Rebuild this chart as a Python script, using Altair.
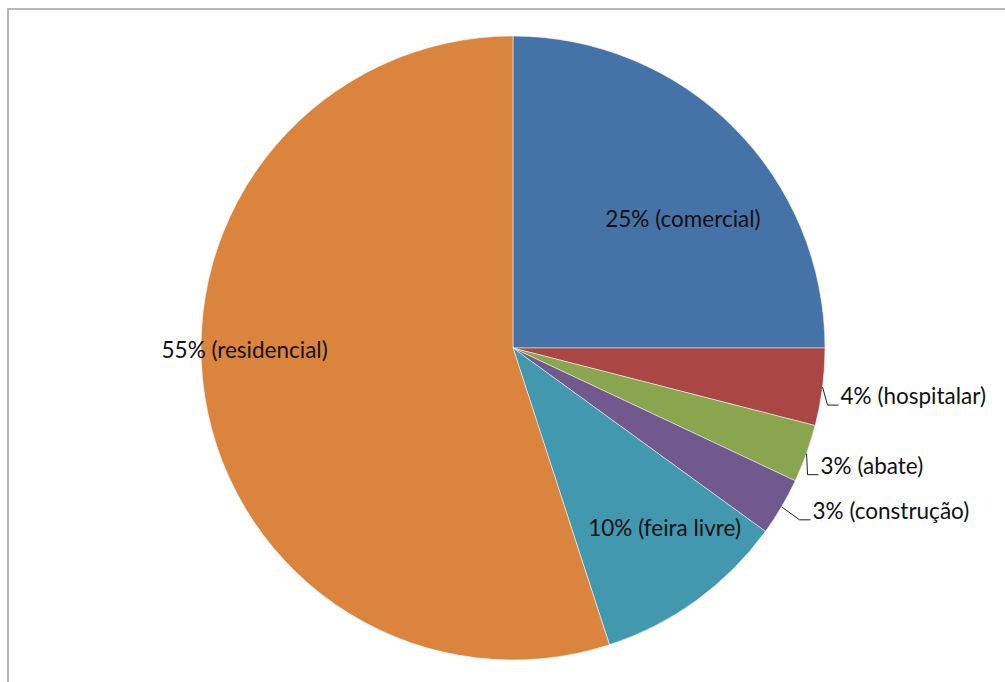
import altair as alt
import pandas as pd

# ---- data ----
categories = ["comercial", "hospitalar", "abate", "construção", "feira livre", "residencial"]
values = [25, 4, 3, 3, 10, 55]
colors = ["#4572A7", "#AA4643", "#89A54E", "#71588F", "#4198AF", "#DB843D"]

# ---- layout / style (not data) ----
W, H = 1005, 682
CX, CY, R = 513, 348, 312
RI = 212          # radius of the anchor used for inside labels
SEG = 11          # horizontal tail of leader lines
FONT = "Lato"
FS = 22.5
TXT = "#111111"

label_kind = {"comercial": "in", "hospitalar": "out", "abate": "out",
              "construção": "out", "feira livre": "in", "residencial": "in"}
# inside: text offset from the anchor; outside: elbow offset from slice edge
label_off = {"comercial": (20, 29), "hospitalar": (5, 18), "abate": (1, 21),
             "construção": (18, 13), "feira livre": (27, 16), "residencial": (-59, -23)}

df = pd.DataFrame({
    "idx": list(range(len(categories))),
    "category": categories,
    "value": values,
})
df["label"] = [f"{v}% ({c})" for v, c in zip(values, categories)]
df["kind"] = [label_kind[c] for c in categories]
df["lx"] = [label_off[c][0] for c in categories]
df["ly"] = [label_off[c][1] for c in categories]

base = (
    alt.Chart(df)
    .transform_joinaggregate(total="sum(value)")
    .transform_window(cum="sum(value)", sort=[alt.SortField("idx")], frame=[None, 0])
    .transform_calculate(mid="2*PI*(datum.cum - datum.value/2)/datum.total")
    .transform_calculate(
        ex=f"{CX} + {R}*sin(datum.mid)",
        ey=f"{CY} - {R}*cos(datum.mid)",
    )
)

frame = alt.Chart(pd.DataFrame({"a": [0]})).mark_rect(
    fillOpacity=0, stroke="#a3a3a3", strokeWidth=1.6
).encode(x=alt.value(8), y=alt.value(9), x2=alt.value(1030), y2=alt.value(720))

arcs = alt.Chart(df).mark_arc(outerRadius=R, stroke="white", strokeWidth=0.5).encode(
    theta=alt.Theta("value:Q", stack=True),
    color=alt.Color("category:N", scale=alt.Scale(domain=categories, range=colors), legend=None),
    order=alt.Order("idx:Q"),
    x=alt.value(CX),
    y=alt.value(CY),
)

inside = (
    base.transform_filter("datum.kind == 'in'")
    .transform_calculate(
        tx=f"{CX} + {RI}*sin(datum.mid) + datum.lx",
        ty=f"{CY} - {RI}*cos(datum.mid) + datum.ly",
    )
    .mark_text(align="center", baseline="alphabetic", font=FONT, fontSize=FS, color=TXT)
    .encode(x=alt.X("tx:Q", scale=None), y=alt.Y("ty:Q", scale=None), text="label:N")
)

leaders = (
    base.transform_filter("datum.kind == 'out'")
    .transform_calculate(p0="0", p1="1", p2="2")
    .transform_fold(["p0", "p1", "p2"], as_=["pt", "pv"])
    .transform_calculate(
        px=f"toNumber(datum.pv) == 0 ? datum.ex : datum.ex + datum.lx + (toNumber(datum.pv) == 2 ? {SEG} : 0)",
        py="toNumber(datum.pv) == 0 ? datum.ey : datum.ey + datum.ly",
        pn="toNumber(datum.pv)",
    )
    .mark_line(color="#222222", strokeWidth=1)
    .encode(
        x=alt.X("px:Q", scale=None),
        y=alt.Y("py:Q", scale=None),
        detail="category:N",
        order=alt.Order("pn:Q"),
    )
)

outside = (
    base.transform_filter("datum.kind == 'out'")
    .transform_calculate(
        tx=f"datum.ex + datum.lx + {SEG} + 2",
        ty="datum.ey + datum.ly - 1",
    )
    .mark_text(align="left", baseline="alphabetic", font=FONT, fontSize=FS, color=TXT)
    .encode(x=alt.X("tx:Q", scale=None), y=alt.Y("ty:Q", scale=None), text="label:N")
)

chart = (
    alt.layer(frame, arcs, leaders, inside, outside)
    .properties(width=W, height=H, autosize=alt.AutoSizeParams(type="none"), padding=0,
                background="white")
    .configure_view(stroke=None)
)

chart.save("out.html", embed_options={"renderer": "svg", "actions": False})
